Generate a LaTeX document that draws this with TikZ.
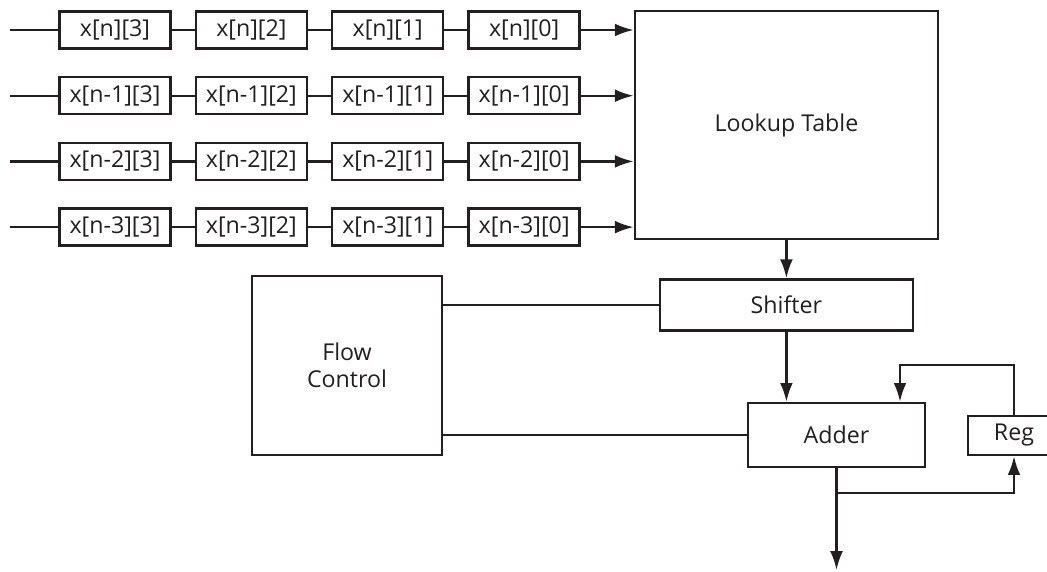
\documentclass[tikz,border=0pt]{standalone}
\usepackage{fontspec}
\setmainfont{Open Sans}
\usetikzlibrary{arrows.meta,positioning,calc}
\definecolor{InkBlack}{RGB}{35,31,32}
\tikzset{
  tapbox/.style={draw=InkBlack,line width=1.7pt,fill=white,
    minimum width=2.775cm,minimum height=0.925cm,inner sep=2pt,align=center},
  blockbox/.style={draw=InkBlack,line width=1.7pt,fill=white,
    inner sep=2pt,align=center},
  wire/.style={line width=1.7pt,draw=InkBlack},
  flowarrow/.style={-{Latex[length=0.47cm,width=0.32cm]},
    line width=1.7pt,draw=InkBlack},
}
\begin{document}
\begin{tikzpicture}[node distance=0.575cm and 0.575cm,
    font=\fontsize{16.5}{19}\selectfont, text=InkBlack]
  \clip (0,0) rectangle (26.175,14.275);
  % sample registers, one row per sample
  \node[tapbox] (r0b3) at (2.875,13.525) {x[n][3]};
  \node[tapbox,right=of r0b3] (r0b2) {x[n][2]};
  \node[tapbox,right=of r0b2] (r0b1) {x[n][1]};
  \node[tapbox,right=of r0b1] (r0b0) {x[n][0]};
  \node[tapbox,below=0.658cm of r0b3] (r1b3) {x[n-1][3]};
  \node[tapbox,right=of r1b3] (r1b2) {x[n-1][2]};
  \node[tapbox,right=of r1b2] (r1b1) {x[n-1][1]};
  \node[tapbox,right=of r1b1] (r1b0) {x[n-1][0]};
  \node[tapbox,below=0.658cm of r1b3] (r2b3) {x[n-2][3]};
  \node[tapbox,right=of r2b3] (r2b2) {x[n-2][2]};
  \node[tapbox,right=of r2b2] (r2b1) {x[n-2][1]};
  \node[tapbox,right=of r2b1] (r2b0) {x[n-2][0]};
  \node[tapbox,below=0.658cm of r2b3] (r3b3) {x[n-3][3]};
  \node[tapbox,right=of r3b3] (r3b2) {x[n-3][2]};
  \node[tapbox,right=of r3b2] (r3b1) {x[n-3][1]};
  \node[tapbox,right=of r3b1] (r3b0) {x[n-3][0]};
  \coordinate (in0) at (0.25,13.525);
  \coordinate (in1) at (in0 |- r1b3);
  \coordinate (in2) at (in0 |- r2b3);
  \coordinate (in3) at (in0 |- r3b3);
  % datapath blocks
  \node[blockbox,minimum width=7.575cm,minimum height=5.7cm] (lut) at (19.66,11.15) {Lookup Table};
  \node[blockbox,minimum width=6.325cm,minimum height=1.275cm,below=0.95cm of lut] (shift) {Shifter};
  \node[blockbox,minimum width=4.75cm,minimum height=4.475cm] (flow) at (8.675,5.1375) {Flow\\Control};
  \node[blockbox,minimum width=4.425cm,minimum height=1.6cm] (add) at (20.9125,3.4) {Adder};
  \node[blockbox,minimum width=2.3cm,minimum height=0.975cm] (reg) at (25.35,3.3875) {Reg};
  \coordinate (fbtop) at (22.5,5.15);
  \coordinate (tap) at (add.south |- 0,1.95);
  \coordinate (out) at (add.south |- 0,0.025);
  % connections
  \draw[wire] (in0) -- (r0b3) -- (r0b2) -- (r0b1) -- (r0b0);
  \draw[wire] (in1) -- (r1b3) -- (r1b2) -- (r1b1) -- (r1b0);
  \draw[wire] (in2) -- (r2b3) -- (r2b2) -- (r2b1) -- (r2b0);
  \draw[wire] (in3) -- (r3b3) -- (r3b2) -- (r3b1) -- (r3b0);
  \draw[flowarrow] (r0b0) -- (r0b0 -| lut.west);
  \draw[flowarrow] (r1b0) -- (r1b0 -| lut.west);
  \draw[flowarrow] (r2b0) -- (r2b0 -| lut.west);
  \draw[flowarrow] (r3b0) -- (r3b0 -| lut.west);
  \draw[flowarrow] (lut.south) -- (shift.north);
  \draw[flowarrow] (shift.south) -- (shift.south |- add.north);
  \draw[wire] (shift.west -| flow.east) -- (shift.west);
  \draw[wire] (add.west -| flow.east) -- (add.west);
  \draw[flowarrow] (reg.north) |- (fbtop) -- (fbtop |- add.north);
  \draw[flowarrow] (add.south) -- (out);
  \draw[flowarrow] (tap) -| (reg.south);
\end{tikzpicture}
\end{document}
